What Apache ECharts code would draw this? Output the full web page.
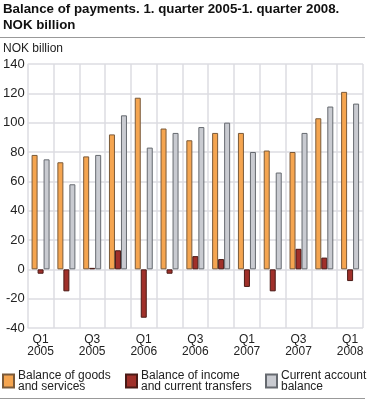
<!DOCTYPE html>
<html>
<head>
<meta charset="utf-8">
<script src="https://cdn.jsdelivr.net/npm/echarts@6/dist/echarts.min.js"></script>
<style>html,body{margin:0;padding:0;background:#fff}#c{width:370px;height:400px}</style>
</head>
<body>
<div id="c"></div>
<script>
const categories = ["Q1 2005","Q2 2005","Q3 2005","Q4 2005","Q1 2006","Q2 2006","Q3 2006","Q4 2006","Q1 2007","Q2 2007","Q3 2007","Q4 2007","Q1 2008"];
const goodsServices = [78, 73, 77, 92, 117, 96, 88, 93, 93, 81, 80, 103, 121];
const incomeTransfers = [-3, -15, 1, 13, -33, -3, 9, 7, -12, -15, 14, 8, -8];
const currentAccount = [75, 58, 78, 105, 83, 93, 97, 100, 80, 66, 93, 111, 113];
const seriesNames = ["Balance of goods\nand services", "Balance of income\nand current transfers", "Current account\nbalance"];
const yTicks = [-40, -20, 0, 20, 40, 60, 80, 100, 120, 140];

const font = "Liberation Sans, Arial, sans-serif";
const chart = echarts.init(document.getElementById('c'), null, {renderer: 'canvas'});
const colors = ['#f5a550', '#a0302a', '#c9cbd1'];
const borders = ['#7a5a3a', '#4a1a16', '#666a70'];
const vals = [goodsServices, incomeTransfers, currentAccount];
const legendX = [2, 125, 265];

chart.setOption({
  animation: false,
  textStyle: {fontFamily: font},
  title: {
    text: 'Balance of payments. 1. quarter 2005-1. quarter 2008.\nNOK billion',
    left: 3, top: 1, padding: 0,
    textStyle: {fontFamily: font, fontSize: 13.3, fontWeight: 'bold', color: '#111', lineHeight: 16}
  },
  graphic: [
    {type: 'line', shape: {x1: 0, y1: 37.5, x2: 365, y2: 37.5}, style: {stroke: '#999', lineWidth: 1}},
    {type: 'line', shape: {x1: 0, y1: 398.5, x2: 365, y2: 398.5}, style: {stroke: '#999', lineWidth: 1}},
    {type: 'text', left: 3, top: 43, style: {text: 'NOK billion', font: '12px ' + font, fill: '#222'}}
  ],
  legend: seriesNames.map((n, i) => ({
    data: [n], left: legendX[i], top: 369, orient: 'horizontal', padding: 0,
    icon: 'rect', itemWidth: 11, itemHeight: 13, itemGap: 0,
    textStyle: {fontFamily: font, fontSize: 12, color: '#222', lineHeight: 11.5, padding: [1, 0, 0, -1]}
  })),
  grid: {left: 25, right: 7, top: 64, bottom: 72},
  xAxis: {
    type: 'category', data: categories,
    axisLine: {show: false}, axisTick: {show: false},
    axisLabel: {interval: 1, formatter: v => v.replace(' ', '\n'), fontFamily: font, fontSize: 12, color: '#222', lineHeight: 12, margin: 6},
    splitLine: {show: true, interval: 0, lineStyle: {color: '#dcdde2', width: 1.5}}
  },
  yAxis: {
    type: 'value', min: yTicks[0], max: yTicks[yTicks.length - 1], interval: 20,
    axisLine: {show: false}, axisTick: {show: false},
    axisLabel: {fontFamily: font, fontSize: 13, color: '#222', margin: 3},
    splitLine: {lineStyle: {color: '#dcdde2', width: 1.5}}
  },
  series: seriesNames.map((n, i) => ({
    name: n, type: 'bar', data: vals[i], barWidth: 6, barGap: '0%',
    itemStyle: {color: colors[i], borderColor: borders[i], borderWidth: 1}
  }))
});
</script>
</body>
</html>
